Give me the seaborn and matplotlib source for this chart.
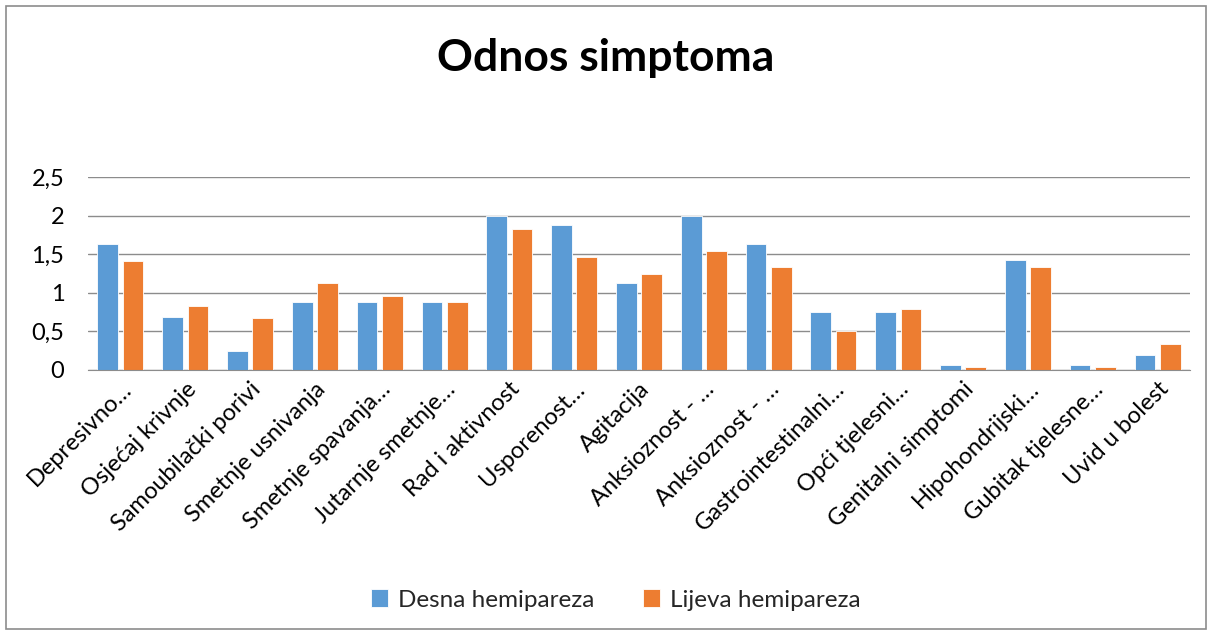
import pandas as pd
import numpy as np
import matplotlib.pyplot as plt
import seaborn as sns
from matplotlib.ticker import FuncFormatter
from matplotlib.patches import Rectangle

# --- DATA ---
categories = [
    "Depresivno raspoloženje", "Osjećaj krivnje", "Samoubilački porivi",
    "Smetnje usnivanja", "Smetnje spavanja tijekom noći", "Jutarnje smetnje spavanja",
    "Rad i aktivnost", "Usporenost mišljenja i govora", "Agitacija",
    "Anksioznost - psihička", "Anksioznost - somatska", "Gastrointestinalni simptomi",
    "Opći tjelesni simptomi", "Genitalni simptomi", "Hipohondrijski simptomi",
    "Gubitak tjelesne težine", "Uvid u bolest",
]
tick_labels = [
    "Depresivno…", "Osjećaj krivnje", "Samoubilački porivi", "Smetnje usnivanja",
    "Smetnje spavanja…", "Jutarnje smetnje…", "Rad i aktivnost", "Usporenost…",
    "Agitacija", "Anksioznost - …", "Anksioznost - …", "Gastrointestinalni…",
    "Opći tjelesni…", "Genitalni simptomi", "Hipohondrijski…", "Gubitak tjelesne…",
    "Uvid u bolest",
]
desna = [1.63, 0.69, 0.25, 0.88, 0.88, 0.88, 2.0, 1.88, 1.13, 2.0, 1.63, 0.75, 0.75, 0.07, 1.43, 0.07, 0.19]
lijeva = [1.41, 0.83, 0.67, 1.13, 0.96, 0.88, 1.83, 1.46, 1.25, 1.54, 1.33, 0.50, 0.79, 0.04, 1.33, 0.04, 0.34]
series = ["Desna hemipareza", "Lijeva hemipareza"]
colors = ["#5B9BD5", "#ED7D31"]

df = pd.DataFrame({
    "simptom": categories * 2,
    "vrijednost": desna + lijeva,
    "skupina": [series[0]] * len(categories) + [series[1]] * len(categories),
})

sns.set_style("white")
plt.rcParams["font.family"] = ["Lato", "DejaVu Sans"]

fig = plt.figure(figsize=(12.12, 6.36), dpi=100)
W, H = 1212, 636
# okvir grafikona
fig.patches.append(Rectangle((6 / W, 1 - 629 / H), (1206 - 6) / W, (629 - 6) / H,
                             transform=fig.transFigure, fill=False,
                             edgecolor="#8C8C8C", linewidth=1.2))
ax = fig.add_axes([88 / W, 1 - 370 / H, (1190 - 88) / W, (370 - 177) / H])

sns.barplot(data=df, x="simptom", y="vrijednost", hue="skupina", order=categories,
            hue_order=series, palette=colors, width=0.78, gap=0.18, ax=ax,
            saturation=1, legend=True, edgecolor="white", linewidth=0.6)

ax.set_ylim(0, 2.5)
ax.set_yticks([0, 0.5, 1, 1.5, 2, 2.5])
ax.yaxis.set_major_formatter(FuncFormatter(lambda v, p: f"{v:g}".replace(".", ",")))
ax.grid(axis="y", color="#8C8C8C", linewidth=1)
ax.set_axisbelow(True)
for s in ["top", "right", "left"]:
    ax.spines[s].set_visible(False)
ax.spines["bottom"].set_color("#8C8C8C")
ax.set_xlim(-0.5, len(categories) - 0.5)
ax.set_xlabel("")
ax.set_ylabel("")
ax.tick_params(axis="both", length=0, colors="black")
ax.tick_params(axis="y", pad=17, labelsize=17)
ax.tick_params(axis="x", pad=6)
ax.set_xticks(range(len(categories)))
ax.set_xticklabels(tick_labels, rotation=45, ha="right", va="top",
                   rotation_mode="anchor", fontsize=17)

fig.suptitle("Odnos simptoma", y=1 - 58 / H, va="center", fontsize=32,
             fontweight="bold", color="black")

handles, labels = ax.get_legend_handles_labels()
ax.legend_.remove()
fig.legend(handles, labels, loc="center", bbox_to_anchor=(616 / W, 1 - 600 / H),
           ncol=2, frameon=False, fontsize=17.5, handlelength=0.7, handleheight=0.7,
           columnspacing=2.0, handletextpad=0.4)

fig.savefig("out.png", dpi=100)
